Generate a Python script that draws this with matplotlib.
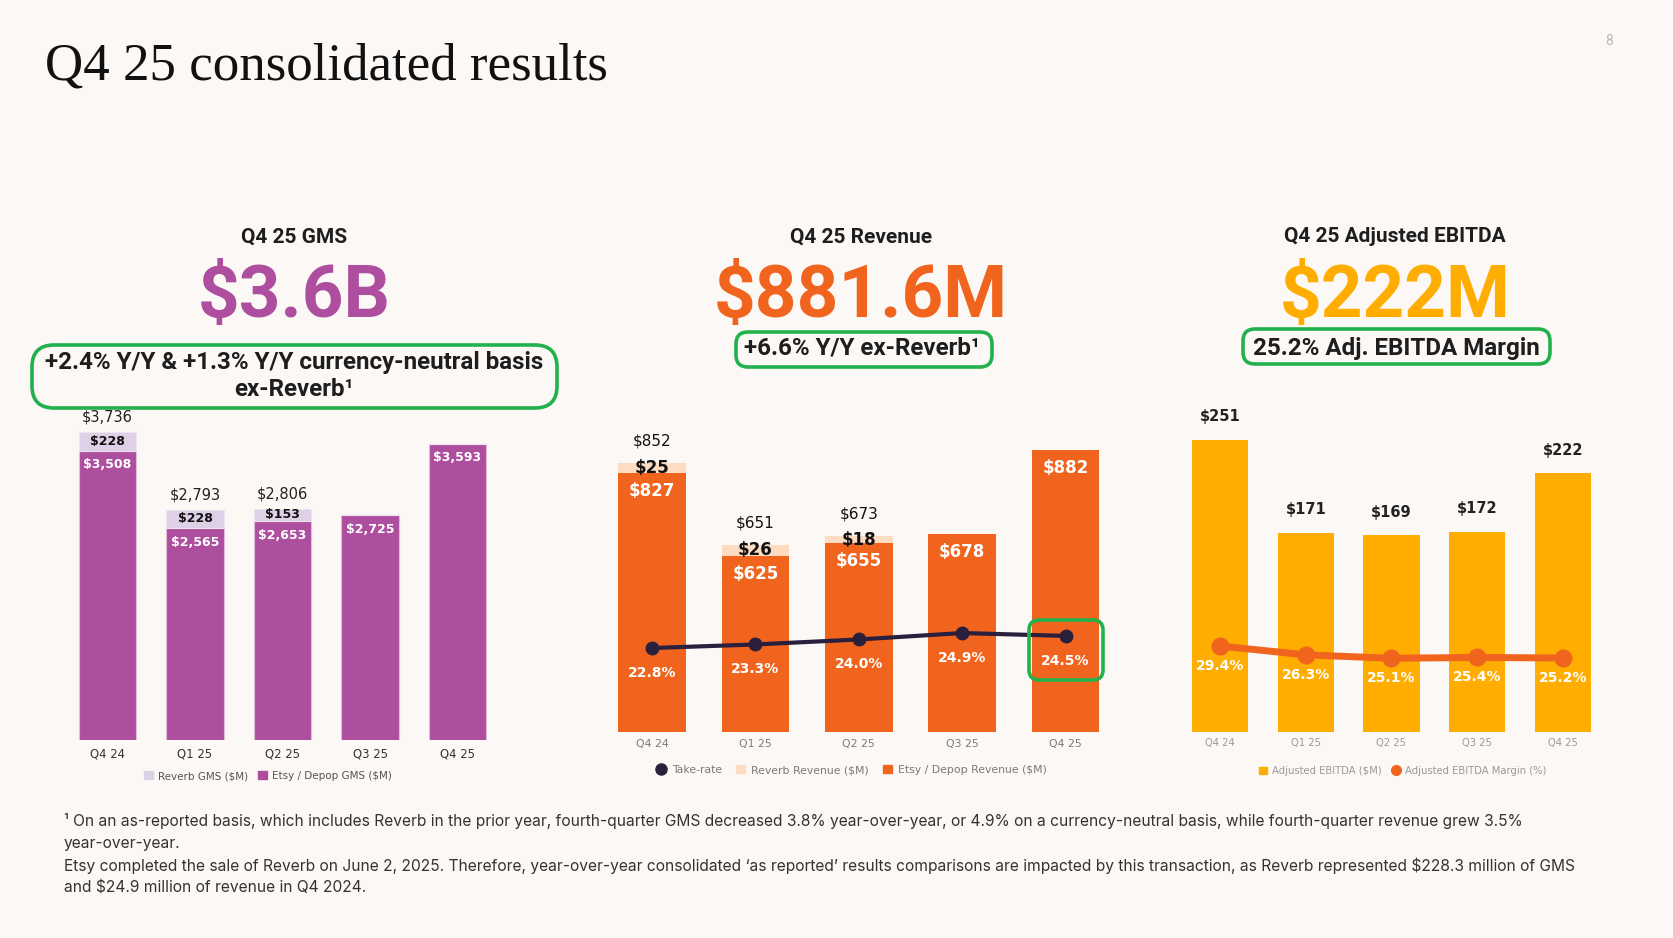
import matplotlib
matplotlib.use('Agg')
import matplotlib.pyplot as plt
import matplotlib.transforms as mtransforms
from matplotlib.patches import FancyBboxPatch, Patch
from matplotlib.lines import Line2D

# ---- data ----
quarters = ['Q4 24', 'Q1 25', 'Q2 25', 'Q3 25', 'Q4 25']

gms_reverb = [228, 228, 153, 0, 0]
gms_etsy = [3508, 2565, 2653, 2725, 3593]

rev_reverb = [25, 26, 18, 0, 0]
rev_etsy = [827, 625, 655, 678, 882]
take_rate = [22.8, 23.3, 24.0, 24.9, 24.5]

ebitda = [251, 171, 169, 172, 222]
ebitda_margin = [29.4, 26.3, 25.1, 25.4, 25.2]

# ---- style ----
BG = '#FBF8F5'
PURPLE = '#AD4E9E'
LAVENDER = '#DED0E6'
ORANGE = '#F1641E'
PEACH = '#FDDCC2'
YELLOW = '#FFAD00'
NAVY = '#2A1F3D'
GREEN = '#22B14C'
SANS = ['Roboto', 'DejaVu Sans']
FOOT = ['Inter', 'DejaVu Sans']
SERIF = ['Liberation Serif', 'DejaVu Serif']

W, H = 1674, 938
fig = plt.figure(figsize=(W / 100, H / 100), dpi=100, facecolor=BG)


def px_axes(left, right, top, bottom):
    return fig.add_axes([left / W, 1 - bottom / H, (right - left) / W, (bottom - top) / H])


def shifted(ax, dy):
    # offset in screen pixels (positive = up)
    return mtransforms.offset_copy(ax.transData, fig=fig, x=0, y=dy, units='dots')


def clean(ax, tick_color, tick_size, pad):
    for s in ax.spines.values():
        s.set_visible(False)
    ax.set_facecolor('none')
    ax.set_yticks([])
    ax.tick_params(axis='x', length=0, pad=pad, labelsize=tick_size, labelcolor=tick_color)


x = list(range(len(quarters)))
BW = 0.655

# ---- GMS chart ----
ax1 = px_axes(50.6, 514.4, 400, 740)
ax1.bar(x, gms_etsy, BW, color=PURPLE, edgecolor='#E3BCD9', linewidth=0.8)
ax1.bar(x, gms_reverb, BW, bottom=gms_etsy, color=LAVENDER, edgecolor='#EDE3F1', linewidth=0.8)
ax1.set_xlim(-0.65, 4.65)
ax1.set_ylim(0, 340 / 0.0825)
ax1.set_xticks(x, quarters)
clean(ax1, '#333333', 8.4, 5.5)
for i in x:
    top = gms_etsy[i] + gms_reverb[i]
    if gms_reverb[i]:
        ax1.text(i, top, f'${top:,}', transform=shifted(ax1, 15), ha='center', va='center',
                 fontsize=10.5, color='#222222')
        ax1.text(i, gms_etsy[i] + gms_reverb[i] / 2, f'${gms_reverb[i]:,}', ha='center', va='center',
                 fontsize=9, fontweight='bold', color='#111111')
    ax1.text(i, gms_etsy[i], f'${gms_etsy[i]:,}', transform=shifted(ax1, -14), ha='center',
             va='center', fontsize=9, fontweight='bold', color='white')
ax1.legend(handles=[Patch(color=LAVENDER, label='Reverb GMS ($M)'),
                    Patch(color=PURPLE, label='Etsy / Depop GMS ($M)')],
           loc='center', bbox_to_anchor=(268 / W, 1 - 776 / H), bbox_transform=fig.transFigure,
           ncol=2, frameon=False, fontsize=7.5, labelcolor='#555555', handlelength=0.8,
           handleheight=0.8, handletextpad=0.5, columnspacing=1.0)

# ---- Revenue chart ----
ax2 = px_axes(584.8, 1132.8, 400, 732)
ax2.bar(x, rev_etsy, BW, color=ORANGE)
ax2.bar(x, rev_reverb, BW, bottom=rev_etsy, color=PEACH)
rev_floor = 195
ax2.set_xlim(-0.65, 4.65)
ax2.set_ylim(rev_floor, rev_floor + 332 / 0.41)
ax2.set_xticks(x, quarters)
clean(ax2, '#7A7A7A', 7.8, 5)
for i in x:
    top = rev_etsy[i] + rev_reverb[i]
    if rev_reverb[i]:
        ax2.text(i, top, f'${top:,}', transform=shifted(ax2, 22), ha='center', va='center',
                 fontsize=11, color='#111111')
        ax2.text(i, rev_etsy[i] + rev_reverb[i] / 2, f'${rev_reverb[i]}', ha='center', va='center',
                 fontsize=12, fontweight='bold', color='#111111')
    ax2.text(i, rev_etsy[i], f'${rev_etsy[i]}', transform=shifted(ax2, -18), ha='center',
             va='center', fontsize=12, fontweight='bold', color='white')
tw2 = ax2.twinx()
tr_floor = 11.04
tw2.set_ylim(tr_floor, tr_floor + 332 / 7.14)
tw2.plot(x, take_rate, color=NAVY, linewidth=3, marker='o', markersize=9)
for s in tw2.spines.values():
    s.set_visible(False)
tw2.set_yticks([])
for i in x:
    tw2.text(i, take_rate[i], f'{take_rate[i]:.1f}%', transform=shifted(tw2, -25), ha='center',
             va='center', fontsize=10, fontweight='bold', color='white')
ax2.legend(handles=[Line2D([], [], color=NAVY, marker='o', linestyle='none', markersize=8, label='Take-rate'),
                    Patch(color=PEACH, label='Reverb Revenue ($M)'),
                    Patch(color=ORANGE, label='Etsy / Depop Revenue ($M)')],
           loc='center', bbox_to_anchor=(852 / W, 1 - 770 / H), bbox_transform=fig.transFigure,
           ncol=3, frameon=False, fontsize=7.8, labelcolor='#7A7A7A', handlelength=0.8,
           handleheight=0.8, handletextpad=0.6, columnspacing=1.3)

# ---- Adjusted EBITDA chart ----
ax3 = px_axes(1164.3, 1618.7, 380, 732)
ax3.bar(x, ebitda, BW, color=YELLOW)
ax3.set_xlim(-0.65, 4.65)
ax3.set_ylim(0, 352 / 1.165)
ax3.set_xticks(x, quarters)
clean(ax3, '#9A9A9A', 7.2, 4.5)
for i in x:
    ax3.text(i, ebitda[i], f'${ebitda[i]}', transform=shifted(ax3, 23), ha='center', va='center',
             fontsize=10.5, fontweight='bold', color='#222222')
tw3 = ax3.twinx()
tw3.set_ylim(-0.7, -0.7 + 352 / 2.857)
tw3.plot(x, ebitda_margin, color=ORANGE, linewidth=5, marker='o', markersize=12)
for s in tw3.spines.values():
    s.set_visible(False)
tw3.set_yticks([])
for i in x:
    tw3.text(i, ebitda_margin[i], f'{ebitda_margin[i]:.1f}%', transform=shifted(tw3, -20),
             ha='center', va='center', fontsize=10, fontweight='bold', color='white')
ax3.legend(handles=[Patch(color=YELLOW, label='Adjusted EBITDA ($M)'),
                    Line2D([], [], color=ORANGE, marker='o', linestyle='none', markersize=7,
                           label='Adjusted EBITDA Margin (%)')],
           loc='center', bbox_to_anchor=(1403 / W, 1 - 771 / H), bbox_transform=fig.transFigure,
           ncol=2, frameon=False, fontsize=7.2, labelcolor='#9A9A9A', handlelength=0.8,
           handleheight=0.8, handletextpad=0.5, columnspacing=1.0)

# ---- overlay for headings, boxes, footnote ----
ov = fig.add_axes([0, 0, 1, 1])
ov.set_xlim(0, W)
ov.set_ylim(H, 0)
ov.axis('off')
ov.patch.set_alpha(0)

ov.text(45, 80, 'Q4 25 consolidated results', family=SERIF, fontsize=38.2, color='#111111',
        va='baseline', ha='left')
ov.text(1609, 41, '8', family=SANS, fontsize=10, color='#BBBBBB', ha='center', va='center')

heads = [(294, 'Q4 25 GMS', '$3.6B', PURPLE),
         (861, 'Q4 25 Revenue', '$881.6M', ORANGE),
         (1395, 'Q4 25 Adjusted EBITDA', '$222M', YELLOW)]
for cx, sub, big, col in heads:
    ov.text(cx, 237, sub, family=SANS, fontsize=15, fontweight='bold', color='#1E1E1E',
            ha='center', va='center')
    ov.text(cx, 317, big, family=SANS, fontsize=52.5, fontweight='bold', color=col,
            ha='center', va='baseline')

box_text = dict(family=SANS, fontsize=17.4, fontweight='bold', color='#1E1E1E',
                ha='center', va='center')
ov.text(294, 363, '+2.4% Y/Y & +1.3% Y/Y currency-neutral basis', **box_text)
ov.text(294, 390, 'ex-Reverb\u00b9', **box_text)
ov.text(862, 348, '+6.6% Y/Y ex-Reverb\u00b9', **box_text)
ov.text(1396, 348, '25.2% Adj. EBITDA Margin', **box_text)

boxes = [(32, 345, 525, 63, 22), (736, 332, 256, 35, 12), (1243, 329, 307, 35, 12),
         (1029, 620, 74, 60, 10)]
for bx, by, bw, bh, r in boxes:
    ov.add_patch(FancyBboxPatch((bx, by), bw, bh, boxstyle=f'round,pad=0,rounding_size={r}',
                                facecolor='none', edgecolor=GREEN, linewidth=2.6))

foot = ['\u00b9 On an as-reported basis, which includes Reverb in the prior year, fourth-quarter GMS '
        'decreased 3.8% year-over-year, or 4.9% on a currency-neutral basis, while fourth-quarter '
        'revenue grew 3.5%',
        'year-over-year.',
        'Etsy completed the sale of Reverb on June 2, 2025. Therefore, year-over-year consolidated '
        '\u2018as reported\u2019 results comparisons are impacted by this transaction, as Reverb '
        'represented $228.3 million of GMS',
        'and $24.9 million of revenue in Q4 2024.']
for k, line in enumerate(foot):
    ov.text(64, 821 + k * 22.3, line, family=FOOT, fontsize=11.2, color='#333333',
            ha='left', va='center')

fig.savefig('out.png', dpi=100, facecolor=BG)
